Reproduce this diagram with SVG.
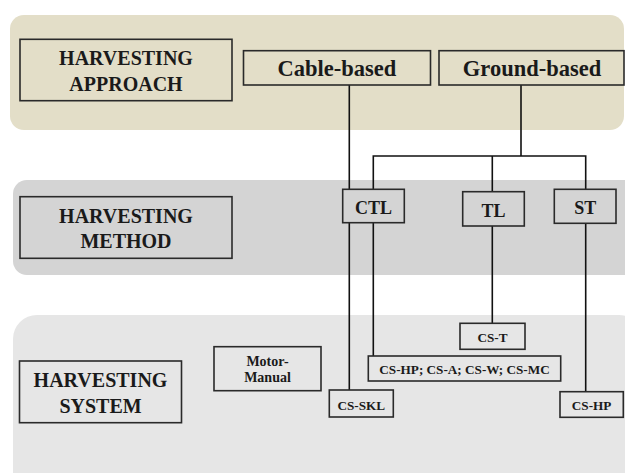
<svg xmlns="http://www.w3.org/2000/svg" width="625" height="473" viewBox="0 0 625 473">
<style>
.band1{fill:#e3dec8}
.band2{fill:#d4d4d4}
.band3{fill:#e6e6e6}
.box{fill:none;stroke:#2a2a2a;stroke-width:1.6}
.t{font-family:"Liberation Serif","Times New Roman",serif;font-weight:bold;fill:#1a1a1a;text-anchor:middle}
.h{font-size:20px}
.a{font-size:22.5px}
.m{font-size:18px}
.s{font-size:13.2px}
.mm{font-size:14px}
.ln{fill:none;stroke:#111;stroke-width:1.6}
</style>
<rect width="625" height="473" fill="#ffffff"/>
<rect class="band1" x="10" y="15" width="614" height="115" rx="14"/>
<rect class="band2" x="13" y="180" width="625" height="95" rx="14"/>
<rect class="band3" x="13" y="315" width="630" height="180" rx="24"/>
<g id="connectors">
<path class="ln" d="M349.3 85 V189.3 M349.3 222.7 V390"/>
<path class="ln" d="M521 85 V156 M373.3 189.3 V156 H585.7 V189.3 M492.3 156 V191.7"/>
<path class="ln" d="M373.3 222.7 V356 M492.3 226 V323.3 M585.7 223.3 V391.7"/>
</g>
<g id="label-approach">
<rect class="box" x="20" y="39.3" width="212" height="61.4"/>
<text class="t h" x="126" y="64.5">HARVESTING</text>
<text class="t h" x="126" y="90.5">APPROACH</text>
</g>
<g id="cable-based">
<rect class="box" x="243.5" y="50.7" width="187" height="34.3"/>
<text class="t a" x="337" y="75.5">Cable-based</text>
</g>
<g id="ground-based">
<rect class="box" x="439" y="50.7" width="185" height="34.3"/>
<text class="t a" x="532" y="75.5">Ground-based</text>
</g>
<g id="label-method">
<rect class="box" x="20" y="196.7" width="212" height="61.6"/>
<text class="t h" x="126" y="222.5">HARVESTING</text>
<text class="t h" x="126" y="248.3">METHOD</text>
</g>
<g id="ctl">
<rect class="box" x="342.7" y="189.3" width="61.6" height="33.4"/>
<text class="t m" x="373.5" y="214.3">CTL</text>
</g>
<g id="tl">
<rect class="box" x="462.7" y="191.7" width="61.6" height="34.3"/>
<text class="t m" x="493.5" y="217.3">TL</text>
</g>
<g id="st">
<rect class="box" x="554.3" y="189.3" width="61.7" height="34"/>
<text class="t m" x="585.2" y="214.3">ST</text>
</g>
<g id="label-system">
<rect class="box" x="19.5" y="361" width="162" height="61.7"/>
<text class="t h" x="100.5" y="386.7">HARVESTING</text>
<text class="t h" x="100.5" y="413.3">SYSTEM</text>
</g>
<g id="motor-manual">
<rect class="box" x="214" y="346.7" width="107" height="44"/>
<text class="t mm" x="267.5" y="365.7">Motor-</text>
<text class="t mm" x="267.5" y="382.3">Manual</text>
</g>
<g id="cs-t">
<rect class="box" x="460" y="323.3" width="65" height="26"/>
<text class="t s" x="492.5" y="341.5">CS-T</text>
</g>
<g id="cs-multi">
<rect class="box" x="368.3" y="356" width="192.4" height="25"/>
<text class="t s" x="464.5" y="373.8">CS-HP; CS-A; CS-W; CS-MC</text>
</g>
<g id="cs-skl">
<rect class="box" x="329.3" y="390" width="64" height="27"/>
<text class="t s" x="361.3" y="409.5">CS-SKL</text>
</g>
<g id="cs-hp">
<rect class="box" x="560" y="391.7" width="63.3" height="25.6"/>
<text class="t s" x="591.6" y="409.5">CS-HP</text>
</g>
</svg>
